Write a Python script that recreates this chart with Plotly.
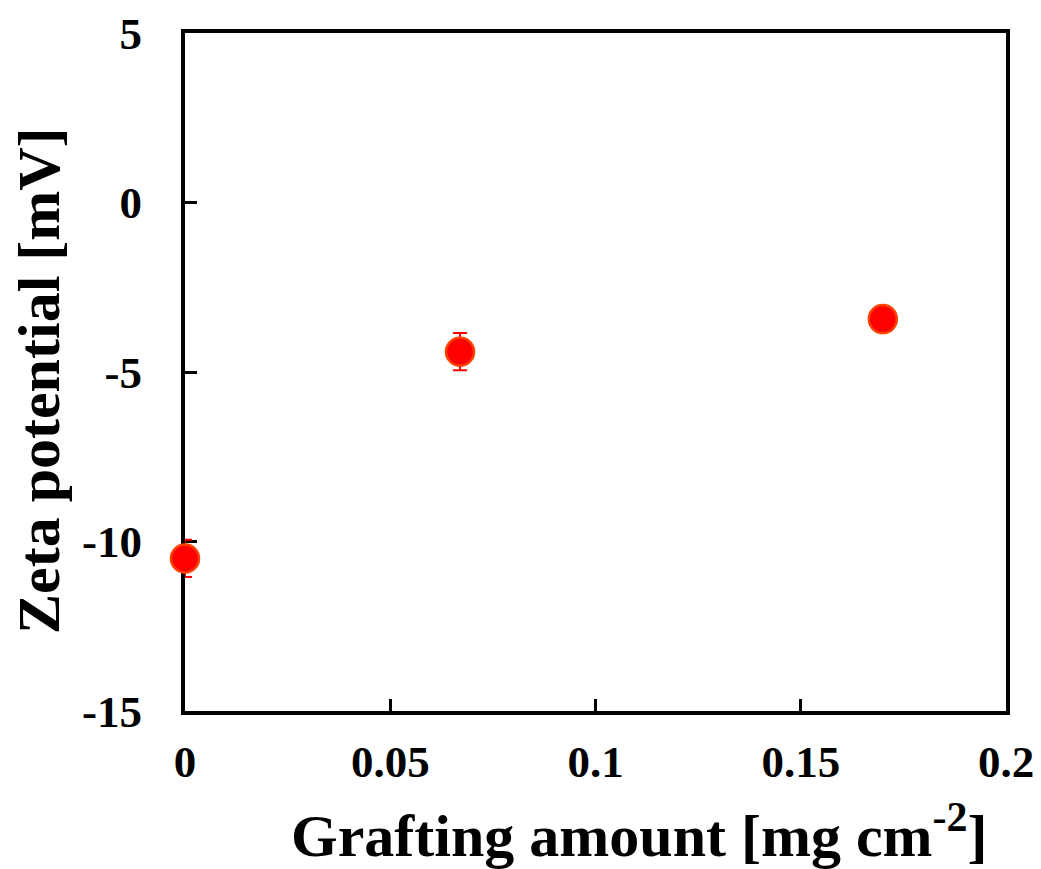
import plotly.graph_objects as go

grafting = [0.0, 0.067, 0.17]
zeta = [-10.5, -4.4, -3.44]
zeta_err = [0.55, 0.55, 0.15]

y_ticks = [5, 0, -5, -10, -15]
y_tick_text = ["5", "0", "-5", "-10", "-15"]
x_ticks = [0, 0.05, 0.1, 0.15, 0.2]
x_tick_text = ["0", "0.05", "0.1", "0.15", "0.2"]

FONT = "Liberation Serif, Times New Roman, serif"

fig = go.Figure()
fig.add_trace(go.Scatter(
    x=grafting, y=zeta, mode="markers",
    marker=dict(size=28, color="#FF0000", line=dict(color="#FF4000", width=2.5)),
    error_y=dict(type="data", array=zeta_err, visible=True, color="#FF0000", thickness=2, width=7),
    cliponaxis=False, showlegend=False,
))

axis_common = dict(
    showgrid=False, zeroline=False, showline=True, linecolor="black", linewidth=4,
    mirror=True, ticks="inside", ticklen=12, tickwidth=3, tickcolor="black",
    layer="below traces", automargin=False,
    tickfont=dict(family=FONT, size=45, color="black", weight="bold"),
)

fig.update_layout(
    width=1033, height=861,
    margin=dict(l=177, r=35, t=25, b=158, autoexpand=False),
    paper_bgcolor="white", plot_bgcolor="white",
    xaxis=dict(range=[0, 0.2], tickvals=x_ticks, ticktext=x_tick_text,
               ticklabelstandoff=8, **axis_common),
    yaxis=dict(range=[-15, 5], tickvals=y_ticks, ticktext=y_tick_text,
               ticklabelstandoff=30, **axis_common),
    annotations=[
        dict(text="Grafting amount [mg cm<sup>-2</sup>]", xref="paper", yref="paper",
             x=0.554, y=-0.178, xanchor="center", yanchor="middle", showarrow=False,
             font=dict(family=FONT, size=60, color="black", weight="bold")),
        dict(text="Zeta potential [mV]", xref="paper", yref="paper", textangle=-90,
             x=-0.178, y=0.488, xanchor="center", yanchor="middle", showarrow=False,
             font=dict(family=FONT, size=60, color="black", weight="bold")),
    ],
)

fig.write_html("out.html")
